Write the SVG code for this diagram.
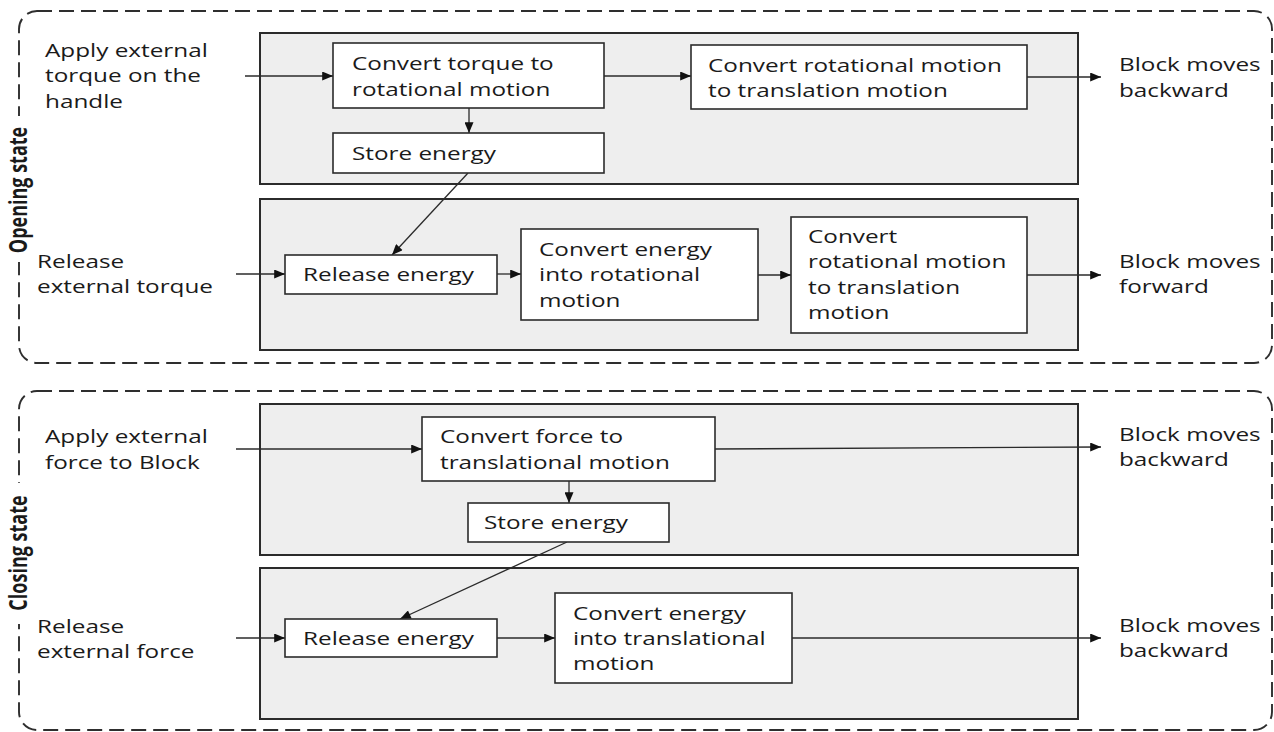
<svg xmlns="http://www.w3.org/2000/svg" width="1274" height="732" viewBox="0 0 1274 732">
  <style>
    .frame { fill: none; stroke: #2e2e2e; stroke-width: 1.9; stroke-dasharray: 15 7; }
    .panel { fill: #eeeeee; stroke: #2b2b2b; stroke-width: 2; }
    .box { fill: #ffffff; stroke: #2b2b2b; stroke-width: 1.6; }
    .lbl { font-family: "Open Sans", "Noto Sans", sans-serif; font-size: 18px; fill: #1a1a1a; }
    .state { font-family: "Open Sans", "Noto Sans", sans-serif; font-size: 18px; font-weight: bold; fill: #1a1a1a; text-anchor: middle; }
    .wire { fill: none; stroke: #2b2b2b; stroke-width: 1.3; marker-end: url(#tip); }
  </style>
  <defs>
    <marker id="tip" viewBox="0 0 12 10" refX="12" refY="5" markerWidth="12" markerHeight="9" markerUnits="userSpaceOnUse" orient="auto">
      <path d="M0,0 L12,5 L0,10 z" fill="#111"/>
    </marker>
  </defs>
  <rect width="1274" height="732" fill="#ffffff"/>

  <!-- state frames -->
  <g id="opening-state">
    <rect class="frame" x="19" y="11" width="1253" height="352" rx="18"/>
    <rect x="8" y="116" width="24" height="146" fill="#ffffff"/>
    <text class="state" transform="translate(27,190) scale(1.35,1) rotate(-90)">Opening state</text>
  </g>
  <g id="closing-state">
    <rect class="frame" x="19" y="391" width="1253" height="339" rx="18"/>
    <rect x="8" y="483" width="24" height="141" fill="#ffffff"/>
    <text class="state" transform="translate(27,553) scale(1.35,1) rotate(-90)">Closing state</text>
  </g>

  <!-- grey stage panels -->
  <g id="panel-open-load"><rect class="panel" x="260" y="33" width="818" height="151"/></g>
  <g id="panel-open-release"><rect class="panel" x="260" y="199" width="818" height="151"/></g>
  <g id="panel-close-load"><rect class="panel" x="260" y="404" width="818" height="151"/></g>
  <g id="panel-close-release"><rect class="panel" x="260" y="568" width="818" height="151"/></g>

  <!-- connectors -->
  <g id="connectors">
    <line class="wire" x1="245" y1="76" x2="333" y2="76"/>
    <line class="wire" x1="604" y1="76" x2="691" y2="76"/>
    <line class="wire" x1="1027" y1="77" x2="1101" y2="77"/>
    <line class="wire" x1="469" y1="108" x2="469" y2="133"/>
    <line class="wire" x1="468" y1="173" x2="392" y2="255"/>
    <line class="wire" x1="236" y1="274" x2="285" y2="274"/>
    <line class="wire" x1="497" y1="274" x2="521" y2="274"/>
    <line class="wire" x1="758" y1="275" x2="791" y2="275"/>
    <line class="wire" x1="1027" y1="275" x2="1101" y2="275"/>

    <line class="wire" x1="236" y1="449" x2="422" y2="449"/>
    <line class="wire" x1="715" y1="449" x2="1101" y2="447"/>
    <line class="wire" x1="569" y1="481" x2="569" y2="503"/>
    <line class="wire" x1="567" y1="542" x2="400" y2="619"/>
    <line class="wire" x1="236" y1="638" x2="285" y2="638"/>
    <line class="wire" x1="497" y1="638" x2="555" y2="638"/>
    <line class="wire" x1="792" y1="638" x2="1101" y2="638"/>
  </g>

  <!-- opening state: apply torque -->
  <g id="apply-torque">
    <text class="lbl" transform="matrix(1.35 0 0 1 45 57)"><tspan x="0" y="0">Apply external</tspan><tspan x="0" y="25.5">torque on the</tspan><tspan x="0" y="51">handle</tspan></text>
  </g>
  <g id="torque-to-rotation">
    <rect class="box" x="333" y="43" width="271" height="65"/>
    <text class="lbl" transform="matrix(1.35 0 0 1 352 70)"><tspan x="0" y="0">Convert torque to</tspan><tspan x="0" y="26">rotational motion</tspan></text>
  </g>
  <g id="store-energy-open">
    <rect class="box" x="333" y="133" width="271" height="40"/>
    <text class="lbl" transform="matrix(1.35 0 0 1 352 160)">Store energy</text>
  </g>
  <g id="rotation-to-translation-open">
    <rect class="box" x="691" y="45" width="336" height="64"/>
    <text class="lbl" transform="matrix(1.35 0 0 1 708 72)"><tspan x="0" y="0">Convert rotational motion</tspan><tspan x="0" y="25.5">to translation motion</tspan></text>
  </g>
  <g id="block-backward-open">
    <text class="lbl" transform="matrix(1.35 0 0 1 1119 71)"><tspan x="0" y="0">Block moves</tspan><tspan x="0" y="26">backward</tspan></text>
  </g>

  <!-- opening state: release torque -->
  <g id="release-torque">
    <text class="lbl" transform="matrix(1.35 0 0 1 37 268)"><tspan x="0" y="0">Release</tspan><tspan x="0" y="25.5">external torque</tspan></text>
  </g>
  <g id="release-energy-open">
    <rect class="box" x="285" y="255" width="212" height="39"/>
    <text class="lbl" transform="matrix(1.35 0 0 1 303 281)">Release energy</text>
  </g>
  <g id="energy-to-rotation">
    <rect class="box" x="521" y="229" width="237" height="91"/>
    <text class="lbl" transform="matrix(1.35 0 0 1 539 256)"><tspan x="0" y="0">Convert energy</tspan><tspan x="0" y="25.5">into rotational</tspan><tspan x="0" y="51">motion</tspan></text>
  </g>
  <g id="rotation-to-translation-release">
    <rect class="box" x="791" y="217" width="236" height="116"/>
    <text class="lbl" transform="matrix(1.35 0 0 1 808 243)"><tspan x="0" y="0">Convert</tspan><tspan x="0" y="25.5">rotational motion</tspan><tspan x="0" y="51">to translation</tspan><tspan x="0" y="76.5">motion</tspan></text>
  </g>
  <g id="block-forward">
    <text class="lbl" transform="matrix(1.35 0 0 1 1119 268)"><tspan x="0" y="0">Block moves</tspan><tspan x="0" y="25.5">forward</tspan></text>
  </g>

  <!-- closing state: apply force -->
  <g id="apply-force">
    <text class="lbl" transform="matrix(1.35 0 0 1 45 443)"><tspan x="0" y="0">Apply external</tspan><tspan x="0" y="26">force to Block</tspan></text>
  </g>
  <g id="force-to-translation">
    <rect class="box" x="422" y="417" width="293" height="64"/>
    <text class="lbl" transform="matrix(1.35 0 0 1 440 443)"><tspan x="0" y="0">Convert force to</tspan><tspan x="0" y="26">translational motion</tspan></text>
  </g>
  <g id="store-energy-close">
    <rect class="box" x="468" y="503" width="201" height="39"/>
    <text class="lbl" transform="matrix(1.35 0 0 1 484 529)">Store energy</text>
  </g>
  <g id="block-backward-close-1">
    <text class="lbl" transform="matrix(1.35 0 0 1 1119 441)"><tspan x="0" y="0">Block moves</tspan><tspan x="0" y="25.5">backward</tspan></text>
  </g>

  <!-- closing state: release force -->
  <g id="release-force">
    <text class="lbl" transform="matrix(1.35 0 0 1 37 633)"><tspan x="0" y="0">Release</tspan><tspan x="0" y="25.5">external force</tspan></text>
  </g>
  <g id="release-energy-close">
    <rect class="box" x="285" y="619" width="212" height="38"/>
    <text class="lbl" transform="matrix(1.35 0 0 1 303 645)">Release energy</text>
  </g>
  <g id="energy-to-translation">
    <rect class="box" x="555" y="593" width="237" height="90"/>
    <text class="lbl" transform="matrix(1.35 0 0 1 573 620)"><tspan x="0" y="0">Convert energy</tspan><tspan x="0" y="25.5">into translational</tspan><tspan x="0" y="50.5">motion</tspan></text>
  </g>
  <g id="block-backward-close-2">
    <text class="lbl" transform="matrix(1.35 0 0 1 1119 632)"><tspan x="0" y="0">Block moves</tspan><tspan x="0" y="25.5">backward</tspan></text>
  </g>
</svg>
